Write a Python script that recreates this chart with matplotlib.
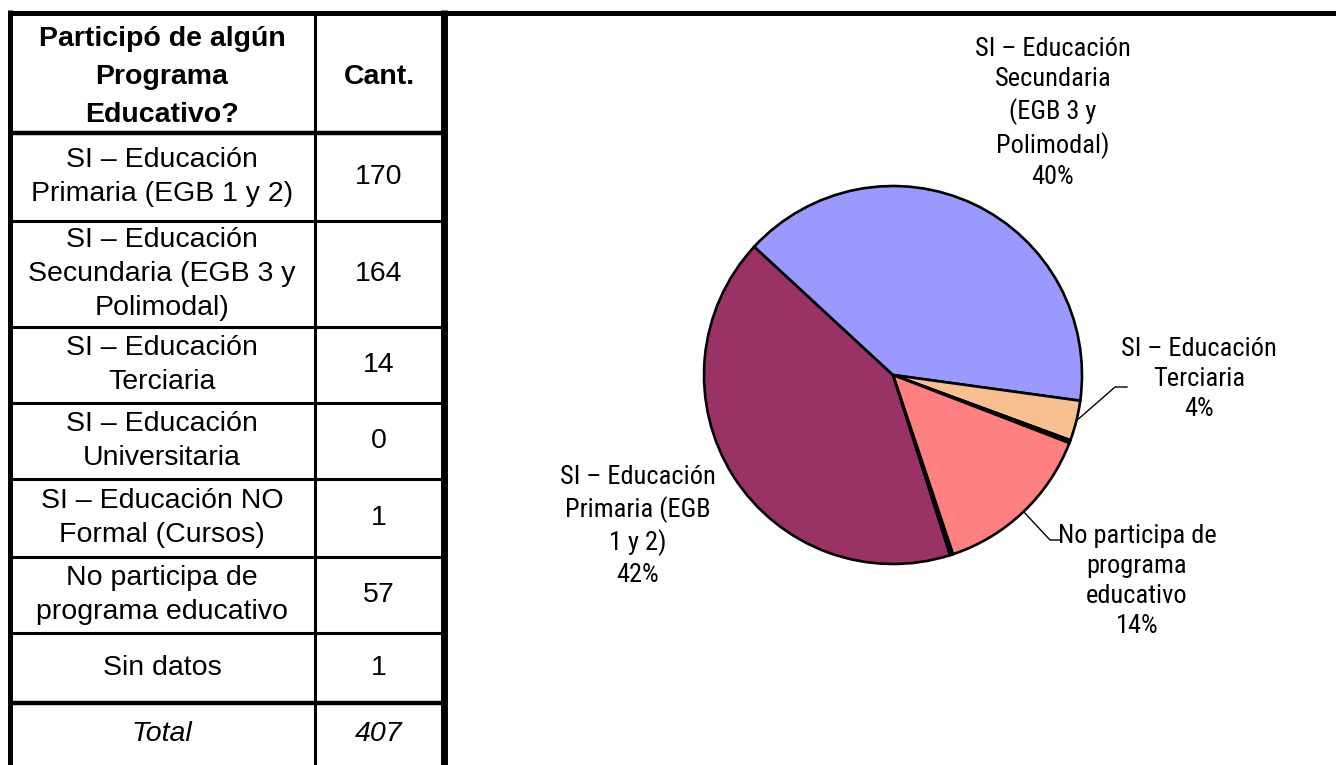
import numpy as np
import matplotlib
matplotlib.use("Agg")
import matplotlib.pyplot as plt
from matplotlib import font_manager

# datos de la tabla
categorias = ["SI – Educación\nPrimaria (EGB 1 y 2)",
              "SI – Educación\nSecundaria (EGB 3 y\nPolimodal)",
              "SI – Educación\nTerciaria",
              "SI – Educación\nUniversitaria",
              "SI – Educación NO\nFormal (Cursos)",
              "No participa de\nprograma educativo",
              "Sin datos"]
cantidades = [170, 164, 14, 0, 1, 57, 1]
total = 407
encabezado = ["Participó de algún\nPrograma\nEducativo?", "Cant."]

# etiquetas del grafico de torta (solo las que se muestran)
etiquetas_torta = {0: "SI – Educación\nPrimaria (EGB\n1 y 2)\n42%",
                   1: "SI – Educación\nSecundaria\n(EGB 3 y\nPolimodal)\n40%",
                   2: "SI – Educación\nTerciaria\n4%",
                   5: "No participa de\nprograma\neducativo\n14%"}
colores = ["#993366", "#9999FF", "#F9C08F", "#CCFFFF", "#336633", "#FF8080", "#0066CC"]

W, H = 1336, 765
fig = plt.figure(figsize=(W / 100, H / 100), dpi=100)
bg = fig.add_axes([0, 0, 1, 1])
bg.set_xlim(0, W)
bg.set_ylim(H, 0)
bg.axis("off")

nombres = {f.name for f in font_manager.fontManager.ttflist}
fam_torta, tam_torta = "Liberation Sans", 16
for nom, tam in [("Liberation Sans Narrow", 19.5), ("Arial Narrow", 19.5),
                 ("Roboto Condensed", 19), ("Archivo Narrow", 19)]:
    if nom in nombres:
        fam_torta, tam_torta = nom, tam
        break
fam_tabla = "Liberation Sans"
tam_tabla = 20.5

# ---- tabla ----
x_izq, x_div, x_der = 9.5, 314.5, 443.5
filas = [12.5, 132.5, 221, 327, 403, 479, 556.5, 633, 702.5, H]
bg.plot([x_izq, W], [filas[0], filas[0]], color="k", lw=3.6, solid_capstyle="butt")
bg.plot([x_izq, x_izq], [filas[0] - 2.5, H], color="k", lw=3.6, solid_capstyle="butt")
bg.plot([x_der, x_der], [filas[0] - 2.5, H], color="k", lw=5.0, solid_capstyle="butt")
bg.plot([x_div, x_div], [filas[0], H], color="k", lw=2.2, solid_capstyle="butt")
for i, y in enumerate(filas[1:-1]):
    lw = 3.2 if i in (0, len(filas) - 3) else 2.2
    bg.plot([x_izq, x_der], [y, y], color="k", lw=lw, solid_capstyle="butt")

c1 = (x_izq + x_div) / 2
c2 = (x_div + x_der) / 2
bg.text(c1, 77, encabezado[0], ha="center", va="center", fontsize=tam_tabla,
        fontweight="bold", family=fam_tabla, linespacing=1.6)
bg.text(c2, 77, encabezado[1], ha="center", va="center", fontsize=tam_tabla,
        fontweight="bold", family=fam_tabla)
for i, (cat, val) in enumerate(zip(categorias, cantidades)):
    ym = (filas[i + 1] + filas[i + 2]) / 2
    bg.text(c1, ym, cat, ha="center", va="center", fontsize=tam_tabla,
            family=fam_tabla, linespacing=1.39)
    bg.text(c2, ym, str(val), ha="center", va="center", fontsize=tam_tabla, family=fam_tabla)
ym = (filas[-2] + filas[-1]) / 2
bg.text(c1, ym, "Total", ha="center", va="center", fontsize=tam_tabla, style="italic", family=fam_tabla)
bg.text(c2, ym, str(total), ha="center", va="center", fontsize=tam_tabla, style="italic", family=fam_tabla)

# ---- torta ----
cx, cy, r = 893, 375, 189
ax = fig.add_axes([(cx - r) / W, (H - cy - r) / H, 2 * r / W, 2 * r / H])
wedges, _ = ax.pie(cantidades, colors=colores, startangle=-72.4, counterclock=False,
                   radius=1, wedgeprops=dict(edgecolor="black", linewidth=1.9))
ax.set_xlim(-1, 1)
ax.set_ylim(-1, 1)
ax.axis("off")

pos_etiquetas = {0: (638, 526), 1: (1053, 113), 2: (1199, 379), 5: (1137, 581)}
for i, txt in etiquetas_torta.items():
    x, y = pos_etiquetas[i]
    bg.text(x, y, txt, ha="center", va="center", fontsize=tam_torta,
            family=fam_torta, linespacing=1.32)

# lineas guia
guias = {2: [(1115, 387), (1127, 387)], 5: [(1050, 540), (1060, 540)]}
for i, pts in guias.items():
    w = wedges[i]
    ang = np.deg2rad((w.theta1 + w.theta2) / 2)
    x0, y0 = cx + r * np.cos(ang), cy - r * np.sin(ang)
    xs = [x0] + [p[0] for p in pts]
    ys = [y0] + [p[1] for p in pts]
    bg.plot(xs, ys, color="k", lw=1.0)

fig.savefig("out.png", dpi=100)
